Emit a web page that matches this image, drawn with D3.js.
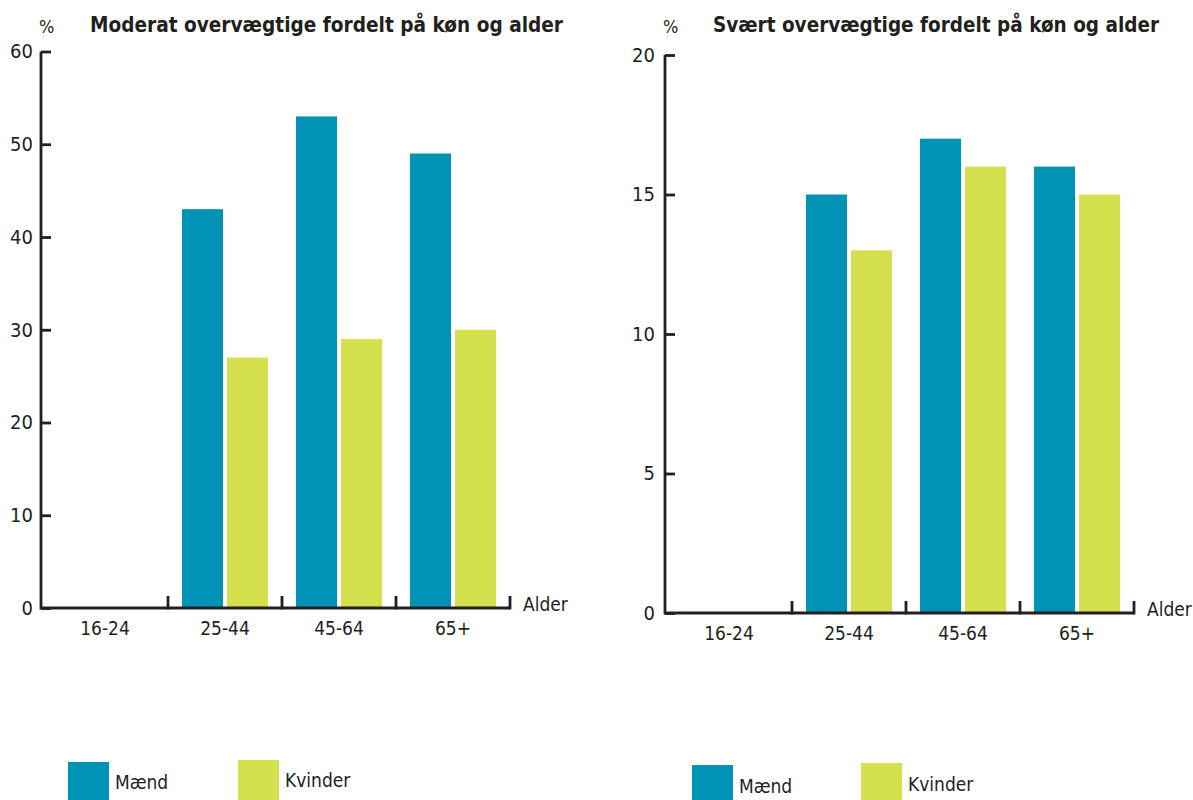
<!DOCTYPE html>
<html>
<head>
<meta charset="utf-8">
<script src="https://cdn.jsdelivr.net/npm/d3@7"></script>
<style>
  body { margin: 0; background: #fff; }
  svg { display: block; }
  text { font-family: "DejaVu Sans Condensed", "DejaVu Sans", sans-serif; font-stretch: condensed; fill: #231f20; }
</style>
</head>
<body>
<svg id="chart" width="1193" height="800"></svg>
<script>
// data
const categories = ["16-24", "25-44", "45-64", "65+"];
const series = ["Mænd", "Kvinder"];
const colors = ["#0093b5", "#d4e04d"];

const moderatMaend = [null, 43, 53, 49];
const moderatKvinder = [null, 27, 29, 30];
const moderatTicks = [0, 10, 20, 30, 40, 50, 60];

const svaertMaend = [null, 15, 17, 16];
const svaertKvinder = [null, 13, 16, 15];
const svaertTicks = [0, 5, 10, 15, 20];

const ink = "#231f20";
const svg = d3.select("#chart");

function drawChart(opts) {
  const g = svg.append("g");

  const y = d3.scaleLinear()
    .domain([0, opts.max])
    .range([opts.y0, opts.yTop]);

  // first band is a bit wider: range starts 13px after the y axis
  const x = d3.scaleBand()
    .domain(categories)
    .range([opts.x0 + 13, opts.xEnd]);

  const xInner = d3.scaleBand()
    .domain(series)
    .range([0, x.bandwidth()])
    .paddingInner(0.089)
    .paddingOuter(0.311);

  /** Bars
  ------------------------------------------------------------*/
  const rows = categories.map((c, i) => ({
    cat: c,
    values: [opts.maend[i], opts.kvinder[i]]
  }));

  g.append("g")
    .selectAll("g")
    .data(rows)
    .enter().append("g")
    .attr("transform", d => "translate(" + x(d.cat) + ",0)")
    .selectAll("rect")
    .data(d => d.values.map((v, j) => ({ s: series[j], v: v, j: j })).filter(d => d.v !== null))
    .enter().append("rect")
    .attr("x", d => xInner(d.s))
    .attr("width", xInner.bandwidth())
    .attr("y", d => y(d.v))
    .attr("height", d => y(0) - y(d.v))
    .attr("fill", d => colors[d.j]);

  /** Axes
  ------------------------------------------------------------*/
  const yAxis = g.append("g")
    .attr("transform", "translate(" + opts.x0 + ",0)")
    .call(d3.axisLeft(y).tickValues(opts.ticks).tickSizeInner(-10).tickSizeOuter(0).tickPadding(opts.labelPad));
  yAxis.selectAll("path, line").attr("stroke", ink).attr("stroke-width", 2.8);
  yAxis.selectAll("text").attr("font-size", 20).attr("fill", ink).style("font-family", null);
  yAxis.select(".domain").attr("d", "M0," + (opts.y0 + 1.4) + "V" + opts.yTop);

  const xAxis = g.append("g")
    .attr("transform", "translate(0," + opts.y0 + ")")
    .call(d3.axisBottom(x).tickSize(0).tickPadding(opts.xLabelPad));
  xAxis.select(".domain").remove();
  xAxis.selectAll(".tick text")
    .attr("font-size", 19).attr("fill", ink).style("font-family", null)
    .attr("dx", (d, i) => i === 0 ? -6 : 0);

  g.append("line")
    .attr("x1", opts.x0).attr("x2", opts.xEnd)
    .attr("y1", opts.y0).attr("y2", opts.y0)
    .attr("stroke", ink).attr("stroke-width", 2.8);

  // separators between age groups
  g.append("g")
    .selectAll("line")
    .data(categories)
    .enter().append("line")
    .attr("x1", d => x(d) + x.bandwidth())
    .attr("x2", d => x(d) + x.bandwidth())
    .attr("y1", opts.y0 + 1.4)
    .attr("y2", opts.y0 - 12)
    .attr("stroke", ink).attr("stroke-width", 2.8);

  g.append("text")
    .attr("x", opts.xEnd + 13)
    .attr("y", opts.y0 + 3)
    .attr("font-size", 19)
    .text("Alder");

  /** Titles
  ------------------------------------------------------------*/
  g.append("text")
    .attr("x", opts.x0 - 2)
    .attr("y", 33)
    .attr("font-size", 18)
    .text("%");

  g.append("text")
    .attr("x", opts.titleX)
    .attr("y", 32)
    .attr("font-size", 22)
    .attr("font-weight", "bold")
    .attr("textLength", opts.titleW)
    .attr("lengthAdjust", "spacingAndGlyphs")
    .text(opts.title);

  /** Legend
  ------------------------------------------------------------*/
  const leg = g.append("g")
    .selectAll("g")
    .data(series)
    .enter().append("g")
    .attr("transform", (d, i) => "translate(" + opts.legend[i][0] + "," + opts.legend[i][1] + ")");

  leg.append("rect")
    .attr("width", 41).attr("height", 45)
    .attr("fill", (d, i) => colors[i]);

  leg.append("text")
    .attr("x", 47)
    .attr("y", opts.legendTextY)
    .attr("font-size", 19)
    .text(d => d);
}

drawChart({
  title: "Moderat overvægtige fordelt på køn og alder",
  titleX: 90, titleW: 473,
  max: 60, ticks: moderatTicks,
  maend: moderatMaend, kvinder: moderatKvinder,
  x0: 41, xEnd: 510, y0: 608, yTop: 51.5,
  labelPad: 8, xLabelPad: 14,
  legend: [[68, 762], [238, 760]], legendTextY: 27
});

drawChart({
  title: "Svært overvægtige fordelt på køn og alder",
  titleX: 713, titleW: 446,
  max: 20, ticks: svaertTicks,
  maend: svaertMaend, kvinder: svaertKvinder,
  x0: 665, xEnd: 1134, y0: 613, yTop: 55,
  labelPad: 10, xLabelPad: 14,
  legend: [[692, 765], [861, 763]], legendTextY: 28
});
</script>
</body>
</html>
